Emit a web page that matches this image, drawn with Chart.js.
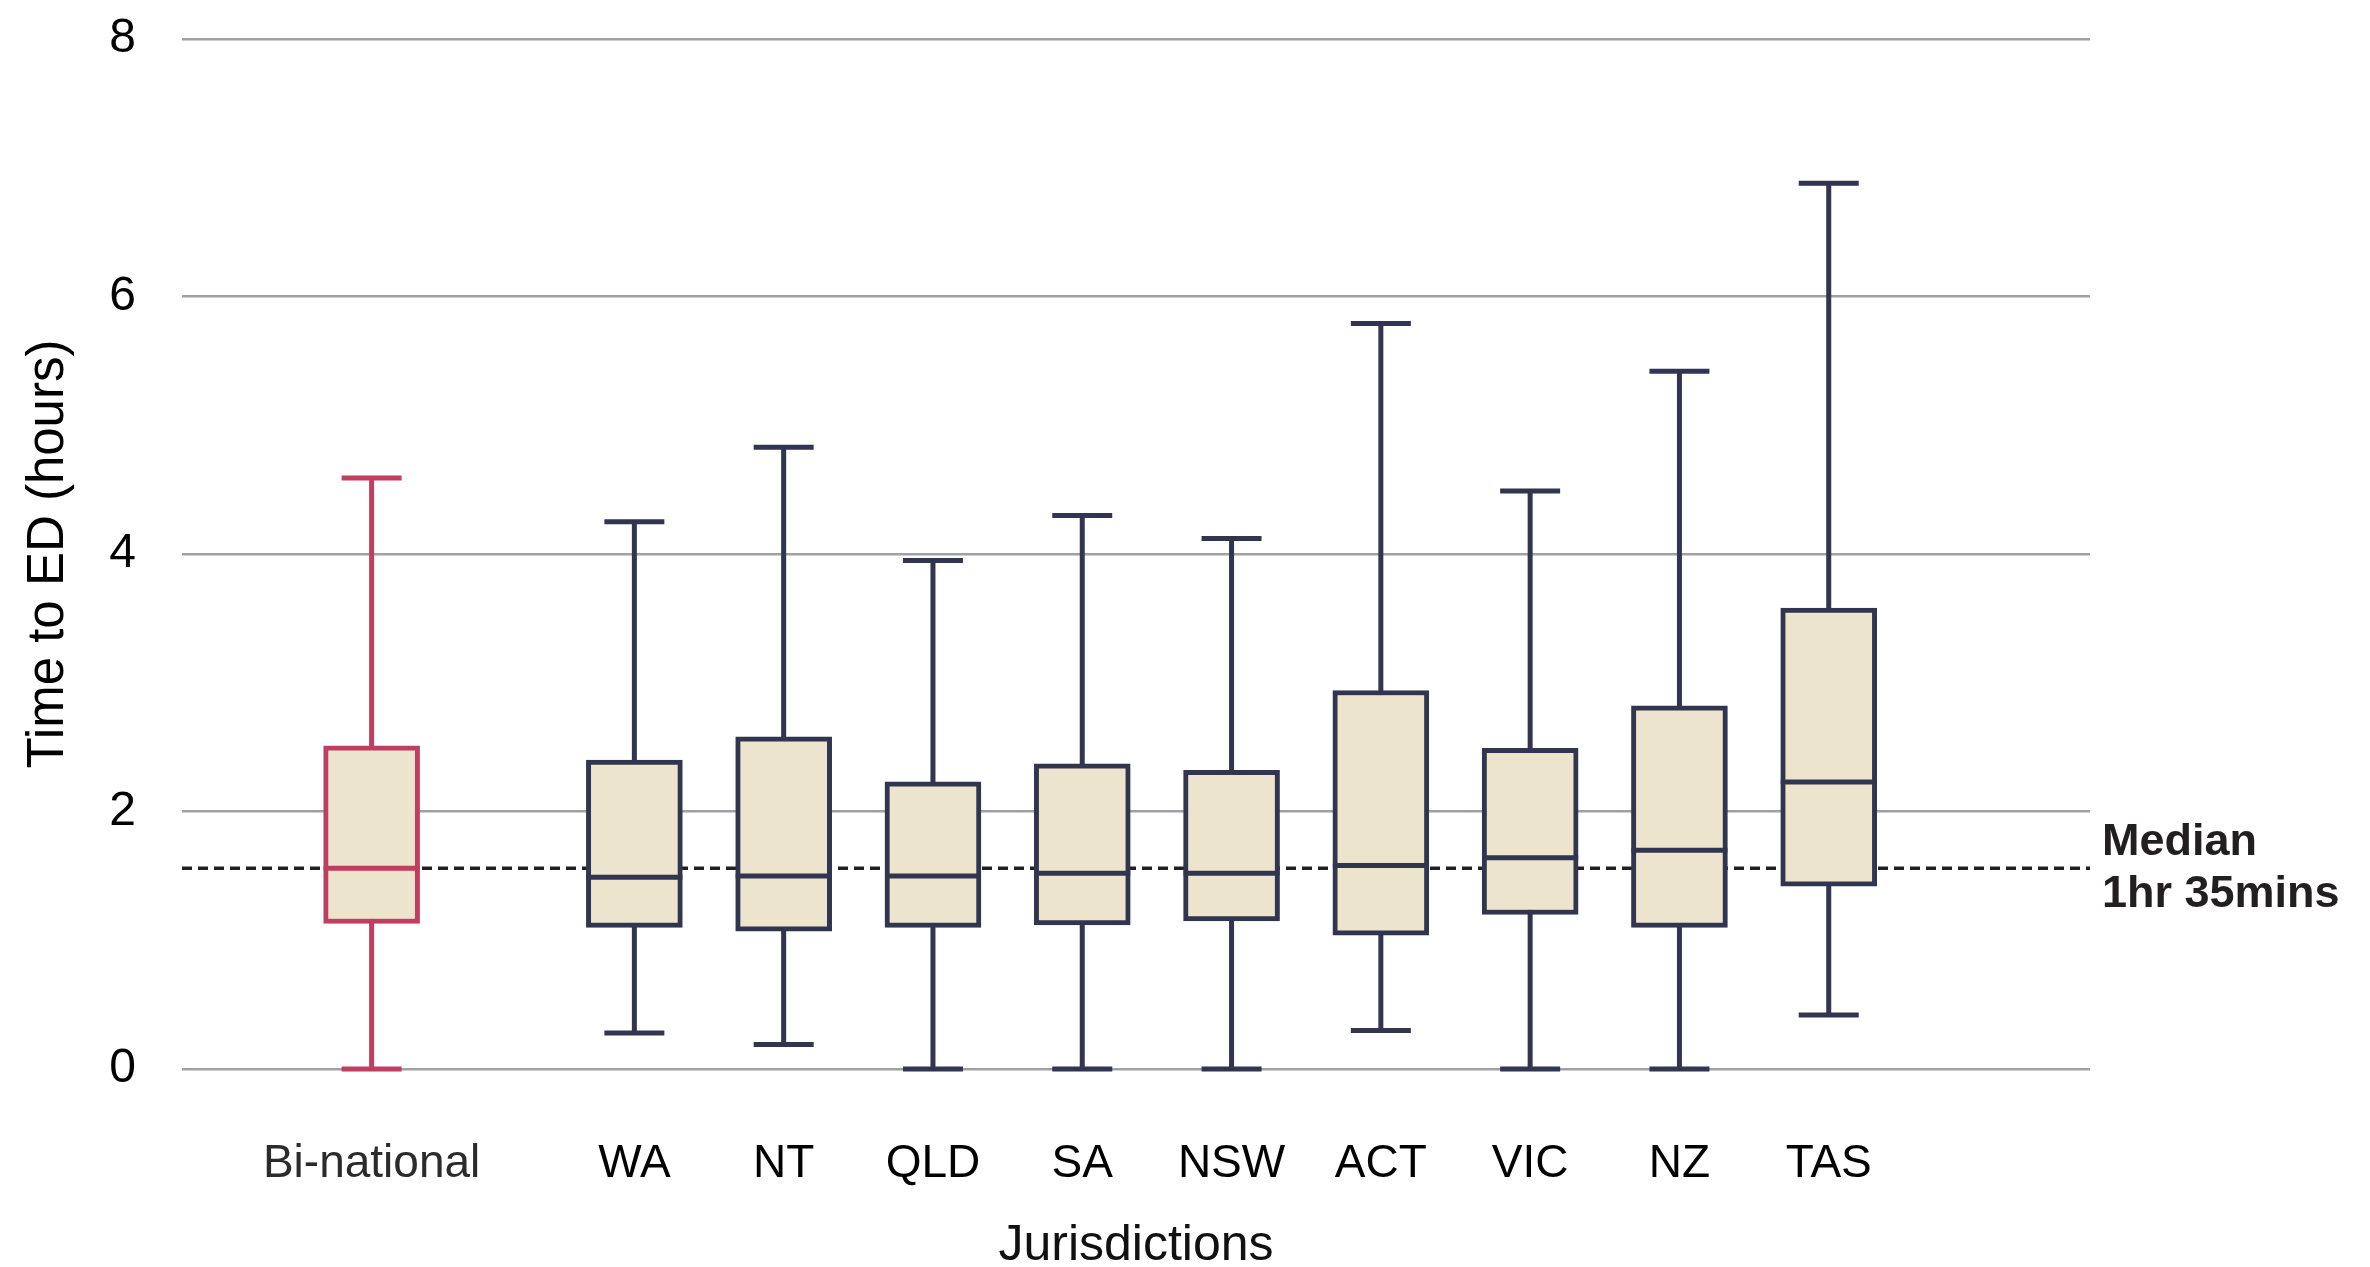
<!DOCTYPE html>
<html>
<head>
<meta charset="utf-8">
<title>Time to ED by jurisdiction</title>
<script src="https://cdn.jsdelivr.net/npm/chart.js@4.4.1/dist/chart.umd.min.js"></script>
<style>
  html, body { margin: 0; padding: 0; background: #fff; }
  #wrap { width: 2370px; height: 1267px; }
</style>
</head>
<body>
<div id="wrap"><canvas id="myChart"></canvas></div>
<script>
// values (hours)
const categories  = ['Bi-national', 'WA', 'NT', 'QLD', 'SA', 'NSW', 'ACT', 'VIC', 'NZ', 'TAS'];
const whiskerLow  = [0.00, 0.28, 0.19, 0.00, 0.00, 0.00, 0.30, 0.00, 0.00, 0.42];
const quartile1   = [1.13, 1.10, 1.07, 1.10, 1.12, 1.15, 1.04, 1.20, 1.10, 1.42];
const medians     = [1.56, 1.49, 1.50, 1.50, 1.52, 1.52, 1.58, 1.64, 1.70, 2.23];
const quartile3   = [2.51, 2.40, 2.58, 2.23, 2.37, 2.32, 2.94, 2.49, 2.82, 3.58];
const whiskerHigh = [4.59, 4.25, 4.83, 3.95, 4.30, 4.12, 5.79, 4.49, 5.42, 6.88];
const yTicks = [0, 2, 4, 6, 8];
const overallMedian = 1.56;
const medianLabel = ['Median', '1hr 35mins'];

const navy = '#32354f';
const crimson = '#be3f5f';
const beige = '#ece4cc';
const fontFamily = "'Liberation Sans', Arial, Helvetica, sans-serif";

// extra space between the bi-national box and the jurisdictions
const groupGap = 0.76;
const xOf = i => i + (i > 0 ? groupGap : 0);

Chart.defaults.font.family = fontFamily;

const boxParts = {
  id: 'boxParts',
  beforeDatasetsDraw(chart) {
    const { ctx, chartArea, scales: { y } } = chart;
    const meta = chart.getDatasetMeta(0);
    ctx.save();
    // overall median, dashed
    const my = y.getPixelForValue(overallMedian);
    ctx.strokeStyle = '#231f20';
    ctx.lineWidth = 3.5;
    ctx.setLineDash([10, 6]);
    ctx.beginPath();
    ctx.moveTo(chartArea.left, my);
    ctx.lineTo(chartArea.right, my);
    ctx.stroke();
    ctx.setLineDash([]);

    // whiskers and caps
    meta.data.forEach((bar, i) => {
      const lo = y.getPixelForValue(whiskerLow[i]);
      const hi = y.getPixelForValue(whiskerHigh[i]);
      ctx.strokeStyle = i === 0 ? crimson : navy;
      ctx.lineWidth = 5;
      ctx.beginPath();
      ctx.moveTo(bar.x, lo);
      ctx.lineTo(bar.x, hi);
      ctx.moveTo(bar.x - 30, lo);
      ctx.lineTo(bar.x + 30, lo);
      ctx.moveTo(bar.x - 30, hi);
      ctx.lineTo(bar.x + 30, hi);
      ctx.stroke();
    });
    ctx.restore();
  },
  afterDatasetsDraw(chart) {
    const { ctx, chartArea, scales: { y } } = chart;
    const meta = chart.getDatasetMeta(0);
    ctx.save();
    meta.data.forEach((bar, i) => {
      const py = y.getPixelForValue(medians[i]);
      ctx.strokeStyle = i === 0 ? crimson : navy;
      ctx.lineWidth = 5;
      ctx.beginPath();
      ctx.moveTo(bar.x - bar.width / 2, py);
      ctx.lineTo(bar.x + bar.width / 2, py);
      ctx.stroke();
    });

    const my = y.getPixelForValue(overallMedian);
    ctx.fillStyle = '#231f20';
    ctx.font = 'bold 45px ' + fontFamily;
    ctx.textAlign = 'left';
    ctx.textBaseline = 'alphabetic';
    ctx.fillText(medianLabel[0], chartArea.right + 12, my - 13);
    ctx.fillText(medianLabel[1], chartArea.right + 12, my + 39);
    ctx.restore();
  }
};

const ctx = document.getElementById('myChart');
new Chart(ctx, {
  type: 'bar',
  data: {
    datasets: [{
      data: categories.map((c, i) => ({ x: xOf(i), y: [quartile1[i], quartile3[i]] })),
      backgroundColor: beige,
      borderColor: categories.map((c, i) => i === 0 ? crimson : navy),
      borderWidth: 5,
      borderSkipped: false,
      barThickness: 96
    }]
  },
  options: {
    responsive: true,
    maintainAspectRatio: false,
    animation: false,
    layout: { padding: { left: 0, right: 280, top: 39, bottom: 0 } },
    plugins: {
      legend: { display: false },
      tooltip: { enabled: false }
    },
    scales: {
      x: {
        type: 'linear',
        offset: false,
        min: -1.27,
        max: 11.51,
        grid: { display: false },
        border: { display: false },
        afterBuildTicks: scale => {
          scale.ticks = categories.map((c, i) => ({ value: xOf(i) }));
        },
        ticks: {
          autoSkip: false,
          maxRotation: 0,
          padding: 60,
          font: { size: 46 },
          color: c => c.index === 0 ? '#2b2b2b' : '#000',
          callback: (value, index) => categories[index]
        },
        title: {
          display: true,
          text: 'Jurisdictions',
          color: '#111',
          font: { size: 50, lineHeight: 0.8 },
          padding: { top: 0, bottom: 1 }
        },
        afterFit: scale => { scale.height = 198; }
      },
      y: {
        min: 0,
        max: 8,
        afterBuildTicks: scale => {
          scale.ticks = yTicks.map(v => ({ value: v }));
        },
        grid: {
          color: '#a0a0a5',
          lineWidth: 2.5,
          drawTicks: true,
          tickLength: 46,
          tickColor: 'rgba(0,0,0,0)'
        },
        border: { display: false },
        ticks: { padding: 0, color: '#000', font: { size: 48 } },
        title: {
          display: true,
          text: 'Time to ED (hours)',
          color: '#000',
          font: { size: 51, lineHeight: 1.2 },
          padding: { top: 18, bottom: 0 }
        },
        afterFit: scale => { scale.width = 182; }
      }
    }
  },
  plugins: [boxParts]
});
</script>
</body>
</html>
